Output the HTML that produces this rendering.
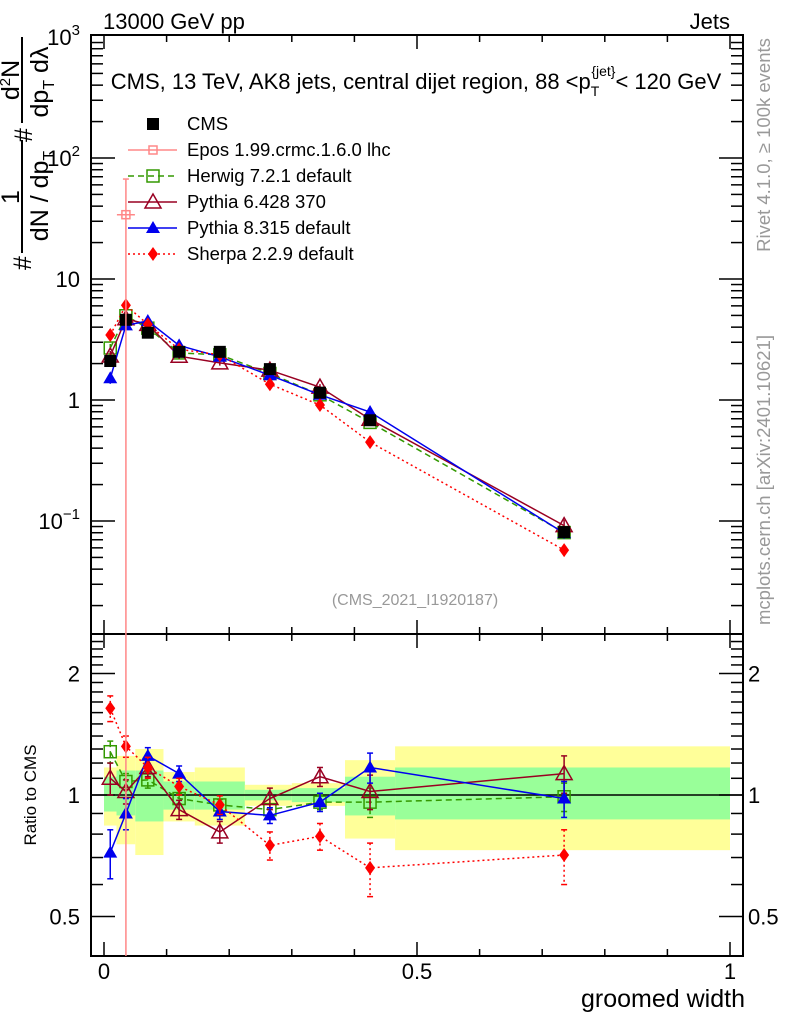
<!DOCTYPE html>
<html><head><meta charset="utf-8"><style>
html,body{margin:0;padding:0;background:#fff;}
svg{display:block;font-family:"Liberation Sans",sans-serif;}
</style></head><body>
<svg id="chart" width="786" height="1024" viewBox="0 0 786 1024" xmlns="http://www.w3.org/2000/svg">
<g id="bands"></g>
<g id="frame"></g>
<g id="marks"></g>
<text x="103" y="29" font-size="22">13000 GeV pp</text>
<text x="730" y="29" font-size="22" text-anchor="end">Jets</text>
<text x="416" y="89" font-size="22" text-anchor="middle">CMS, 13 TeV, AK8 jets, central dijet region, 88 &lt;p<tspan font-size="14" dy="7">T</tspan><tspan font-size="14" dy="-20" dx="-8">{jet}</tspan><tspan dy="13">&lt; 120 GeV</tspan></text>
<text x="415" y="605" font-size="16" fill="#999" text-anchor="middle">(CMS_2021_I1920187)</text>
<text transform="translate(770,145) rotate(-90)" font-size="18.5" fill="#999" text-anchor="middle">Rivet 4.1.0, ≥ 100k events</text>
<text transform="translate(770,480) rotate(-90)" font-size="18.5" fill="#999" text-anchor="middle">mcplots.cern.ch [arXiv:2401.10621]</text>
<g font-size="25">
<text transform="translate(31,270) rotate(-90)">#</text>
<line x1="22" y1="140" x2="22" y2="253" stroke="#000" stroke-width="2"/>
<text transform="translate(19,197) rotate(-90)" text-anchor="middle">1</text>
<text transform="translate(48,196) rotate(-90)" text-anchor="middle">dN / dp<tspan font-size="16" dy="6">T</tspan></text>
<text transform="translate(32,142) rotate(-90)">#</text>
<line x1="22" y1="37" x2="22" y2="123" stroke="#000" stroke-width="2"/>
<text transform="translate(19,80) rotate(-90)" text-anchor="middle">d<tspan font-size="15" dy="-9">2</tspan><tspan dy="9">N</tspan></text>
<text transform="translate(48,82) rotate(-90)" text-anchor="middle">dp<tspan font-size="16" dy="6">T</tspan><tspan dy="-6"> dλ</tspan></text>
</g>
<text transform="translate(36,795) rotate(-90)" font-size="17" text-anchor="middle">Ratio to CMS</text>
<text x="745" y="1007" font-size="25" text-anchor="end">groomed width</text>
<g id="legend"></g>
</svg>
<script>
const binEdges=[0,0.02,0.05,0.095,0.145,0.225,0.3,0.385,0.465,1];
const centers=[0.01,0.035,0.07,0.12,0.185,0.265,0.345,0.425,0.735];
const cms=[2.1,4.6,3.6,2.5,2.5,1.8,1.15,0.68,0.081];
const yelLo=[0.84,0.755,0.71,0.86,0.84,0.94,0.94,0.78,0.73];
const yelHi=[1.17,1.25,1.30,1.14,1.17,1.06,1.07,1.22,1.32];
const grnLo=[0.91,0.89,0.86,0.92,0.92,0.97,0.96,0.89,0.87];
const grnHi=[1.11,1.15,1.15,1.08,1.08,1.03,1.04,1.11,1.17];
const herwigR=[1.28,1.08,1.09,0.98,0.945,0.92,0.96,0.96,0.99];
const pythia6R=[1.10,1.02,1.17,0.92,0.81,0.98,1.11,1.02,1.13];
const pythia8R=[0.72,0.90,1.25,1.13,0.91,0.89,0.96,1.17,0.98];
const sherpaR=[1.64,1.32,1.17,1.05,0.945,0.75,0.79,0.66,0.71];
const herwigE=[0.08,0.05,0.05,0.03,0.03,0.03,0.04,0.08,0.08];
const pythia6E=[0.1,0.07,0.06,0.05,0.05,0.06,0.06,0.1,0.12];
const pythia8E=[0.1,0.08,0.06,0.05,0.04,0.04,0.05,0.1,0.1];
const sherpaE=[0.12,0.08,0.07,0.05,0.05,0.06,0.06,0.1,0.11];
const eposX=[0.035],eposY=[34],eposHi=[67];
const yTicks=[1000,100,10,1,0.1];
const yTickLabels=[["10","3"],["10","2"],["10",""],["1",""],["10","−1"]];
const rTicks=[2,1,0.5];
const rTickLabels=["2","1","0.5"];
const xTicks=[0,0.5,1];
const xTickLabels=["0","0.5","1"];

const NS="http://www.w3.org/2000/svg";
const L=91,R=743,T=35,M=634,B=956;
const X=v=>104+626*v;
const Y=v=>400-121*Math.log10(v);
const RY=r=>795-121.5*Math.log2(r);
function el(tag,attrs,parent){const e=document.createElementNS(NS,tag);for(const k in attrs)e.setAttribute(k,attrs[k]);parent.appendChild(e);return e;}
const bands=document.getElementById('bands'),frame=document.getElementById('frame'),marks=document.getElementById('marks'),legend=document.getElementById('legend');
const defs=el('defs',{},document.getElementById('chart'));
const clip=el('clipPath',{id:'cm'},defs);el('rect',{x:L,y:T,width:R-L,height:M-T},clip);
const clip2=el('clipPath',{id:'cr'},defs);el('rect',{x:L,y:M,width:R-L,height:B-M},clip2);

for(let i=0;i<centers.length;i++){
 let r=el('rect',{x:X(binEdges[i]),y:RY(yelHi[i]),width:X(binEdges[i+1])-X(binEdges[i]),height:RY(yelLo[i])-RY(yelHi[i]),fill:'#ffff99'},bands);
 
 
 let g=el('rect',{x:X(binEdges[i]),y:RY(grnHi[i]),width:X(binEdges[i+1])-X(binEdges[i]),height:RY(grnLo[i])-RY(grnHi[i]),fill:'#99ff99'},bands);
 
 
}
el('rect',{x:L,y:T,width:R-L,height:B-T,fill:'none',stroke:'#000','stroke-width':2},frame);
el('line',{x1:L,y1:M,x2:R,y2:M,stroke:'#000','stroke-width':2},frame);
el('line',{x1:L,y1:RY(1),x2:R,y2:RY(1),stroke:'#000','stroke-width':1.5},frame);
for(let k=0;k<=10;k++){const v=k/10,x=X(v),len=k%5==0?14:7;
 [[M,-1],[B,-1],[T,1],[M,1]].forEach(([y,d])=>el('line',{x1:x,y1:y,x2:x,y2:y+d*len,stroke:'#000','stroke-width':1.5},frame));}
xTicks.forEach((v,i)=>{const t=el('text',{x:X(v),y:979,'font-size':22,'text-anchor':'middle'},frame);t.textContent=xTickLabels[i];
 
 });
for(let e=-2;e<3;e++)for(let m=1;m<10;m++){const v=m*Math.pow(10,e),y=Y(v);if(y<T||y>M)continue;const len=m==1?24:12;
 el('line',{x1:L,y1:y,x2:L+len,y2:y,stroke:'#000','stroke-width':1.5},frame);el('line',{x1:R,y1:y,x2:R-len,y2:y,stroke:'#000','stroke-width':1.5},frame);}
yTicks.forEach((v,i)=>{const t=el('text',{x:80,y:Y(v)+8,'font-size':22,'text-anchor':'end'},frame);
 t.textContent=yTickLabels[i][0];
 if(yTickLabels[i][1]){const s=el('tspan',{'font-size':15,dy:-10},t);s.textContent=yTickLabels[i][1];}
 
 });
[0.4,0.5,0.6,0.7,0.8,0.9,1,1.1,1.2,1.3,1.4,1.5,1.6,1.7,1.8,1.9,2,2.1,2.2,2.3,2.4,2.5].forEach(v=>{const y=RY(v);if(y<M+2||y>B-2)return;const len=(v==0.5||v==1||v==2)?24:12;
 el('line',{x1:L,y1:y,x2:L+len,y2:y,stroke:'#000','stroke-width':1.5},frame);el('line',{x1:R,y1:y,x2:R-len,y2:y,stroke:'#000','stroke-width':1.5},frame);});
rTicks.forEach((v,i)=>{[[80,'end'],[748,'start']].forEach(([x,a])=>{const t=el('text',{x:x,y:RY(v)+8,'font-size':22,'text-anchor':a},frame);t.textContent=rTickLabels[i];
 
 });});

function marker(type,x,y,col,p){
 if(type=='sq') return el('rect',{x:x-6,y:y-6,width:12,height:12,fill:col},p);
 if(type=='osq') return el('rect',{x:x-6,y:y-6,width:12,height:12,fill:'none',stroke:col,'stroke-width':1.5},p);
 if(type=='otri') return el('polygon',{points:`${x},${y-8} ${x-8},${y+6} ${x+8},${y+6}`,fill:'none',stroke:col,'stroke-width':1.5},p);
 if(type=='tri') return el('polygon',{points:`${x},${y-7} ${x-7},${y+5} ${x+7},${y+5}`,fill:col},p);
 if(type=='dia') return el('polygon',{points:`${x},${y-7} ${x+5},${y} ${x},${y+7} ${x-5},${y}`,fill:col},p);
 if(type=='cross'){const g=el('g',{},p);el('rect',{x:x-4,y:y-4,width:8,height:8,fill:'none',stroke:col,'stroke-width':1.5},g);return g;}
}
const series=[
 {name:'herwig',r:herwigR,e:herwigE,col:'#339900',dash:'6,4',m:'osq'},
 {name:'pythia6',r:pythia6R,e:pythia6E,col:'#990022',dash:'',m:'otri'},
 {name:'pythia8',r:pythia8R,e:pythia8E,col:'#0000ee',dash:'',m:'tri'},
 {name:'sherpa',r:sherpaR,e:sherpaE,col:'#ff0000',dash:'2,3',m:'dia'}];
series.forEach(s=>{
 const gm=el('g',{'clip-path':'url(#cm)'},marks);
 
 
 const gr=el('g',{'clip-path':'url(#cr)'},marks);
 
 
 const pm=centers.map((c,i)=>X(c)+','+Y(cms[i]*s.r[i])).join(' ');
 const pr=centers.map((c,i)=>X(c)+','+RY(s.r[i])).join(' ');
 el('polyline',{points:pm,fill:'none',stroke:s.col,'stroke-width':1.5,'stroke-dasharray':s.dash},gm);
 el('polyline',{points:pr,fill:'none',stroke:s.col,'stroke-width':1.5,'stroke-dasharray':s.dash},gr);
 centers.forEach((c,i)=>{const x=X(c);
  const v=cms[i]*s.r[i];
  el('line',{x1:x,y1:Y(v*(1+s.e[i])),x2:x,y2:Y(v*(1-s.e[i])),stroke:s.col,'stroke-width':1.5,'stroke-dasharray':s.dash},gm);
  el('line',{x1:x,y1:RY(s.r[i]+s.e[i]),x2:x,y2:RY(s.r[i]-s.e[i]),stroke:s.col,'stroke-width':1.5,'stroke-dasharray':s.dash},gr);
  [RY(s.r[i]+s.e[i]),RY(s.r[i]-s.e[i])].forEach(y=>el('line',{x1:x-3,y1:y,x2:x+3,y2:y,stroke:s.col,'stroke-width':1.5},gr));
  const a=marker(s.m,x,Y(v),s.col,gm);
  
  
  const b=marker(s.m,x,RY(s.r[i]),s.col,gr);
  
  
 });
});
const gc=el('g',{},marks);


centers.forEach((c,i)=>{const p=marker('sq',X(c),Y(cms[i]),'#000',gc);
 
 });
const ge=el('g',{stroke:'#ff8888','stroke-width':1.5},marks);


eposX.forEach((c,i)=>{const x=X(c),y=Y(eposY[i]);
 el('line',{x1:x,y1:Y(eposHi[i]),x2:x,y2:B},ge);
 el('line',{x1:x-3,y1:Y(eposHi[i]),x2:x+3,y2:Y(eposHi[i])},ge);
 el('line',{x1:x-9,y1:y,x2:x+9,y2:y},ge);
 const m=marker('cross',x,y,'#ff8888',ge);
 
 });
const leg=[['CMS','#000','','sq',false],['Epos 1.99.crmc.1.6.0 lhc','#ff8888','','cross',true],['Herwig 7.2.1 default','#339900','6,4','osq',true],['Pythia 6.428 370','#990022','','otri',true],['Pythia 8.315 default','#0000ee','','tri',true],['Sherpa 2.2.9 default','#ff0000','2,3','dia',true]];
leg.forEach((l,i)=>{const y=124+26*i;const g=el('g',{},legend);
 
 
 if(l[4])el('line',{x1:128,y1:y,x2:177,y2:y,stroke:l[1],'stroke-width':1.5,'stroke-dasharray':l[2]},g);
 marker(l[3],153,y,l[1],g);
 const t=el('text',{x:187,y:y+6,'font-size':18.5},g);t.textContent=l[0];});
</script>
</body></html>
